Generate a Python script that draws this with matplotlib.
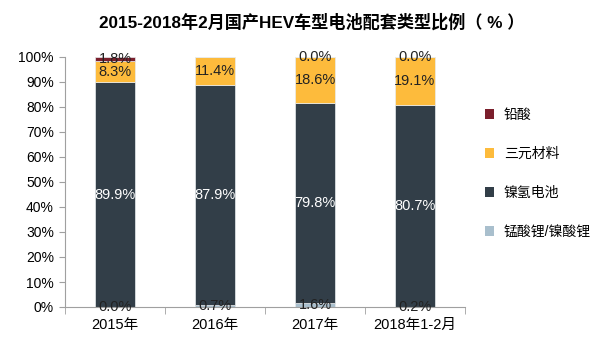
import numpy as np
import matplotlib
matplotlib.use('Agg')
import matplotlib.pyplot as plt
from matplotlib.patches import Patch

plt.rcParams['font.family'] = ['Liberation Sans', 'Noto Sans CJK SC', 'DejaVu Sans']

# data (percent)
categories = ['2015年', '2016年', '2017年', '2018年1-2月']
series_names = ['锰酸锂/镍酸锂', '镍氢电池', '三元材料', '铅酸']
lmo = [0.0, 0.7, 1.6, 0.2]
nimh = [89.9, 87.9, 79.8, 80.7]
ternary = [8.3, 11.4, 18.6, 19.1]
lead = [1.8, 0.0, 0.0, 0.0]
lead_labels = ['1.8%', None, '0.0%', '0.0%']

colors = ['#a9bfcd', '#323e48', '#fdbb3c', '#7b1f2c']
text_colors = ['#222222', '#ffffff', '#222222', '#222222']

fig = plt.figure(figsize=(6.0, 3.54), dpi=100)
ax = fig.add_axes([65/600, 1 - 307/354, 400/600, 250/354])

x = np.arange(len(categories))
bottom = np.zeros(len(categories))
data = [lmo, nimh, ternary, lead]
for i, vals in enumerate(data):
    vals = np.array(vals)
    ax.bar(x, vals, width=0.395, bottom=bottom, color=colors[i],
           edgecolor='#e8ecef', linewidth=0.5)
    for j, v in enumerate(vals):
        if i == 3:
            lab = lead_labels[j]
        else:
            lab = '%.1f%%' % v
        if lab is None:
            continue
        ax.text(x[j], bottom[j] + v / 2, lab, ha='center', va='center',
                fontsize=10.5, color=text_colors[i])
    bottom += vals

ax.set_xlim(-0.5, len(categories) - 0.5)
ax.set_ylim(0, 100)
ax.set_yticks(np.arange(0, 101, 10))
ax.set_yticklabels(['%d%%' % v for v in range(0, 101, 10)], fontsize=10)
ax.set_xticks(x)
ax.set_xticklabels(categories, fontsize=10.5)
ax.set_xticks(np.arange(-0.5, len(categories), 1), minor=True)
ax.tick_params(axis='x', which='major', length=0, pad=8)
ax.tick_params(axis='x', which='minor', length=5, color='#a0a0a0')
ax.tick_params(axis='y', length=4, color='#a0a0a0', pad=4)
for s in ['top', 'right']:
    ax.spines[s].set_visible(False)
for s in ['left', 'bottom']:
    ax.spines[s].set_color('#a0a0a0')
    ax.spines[s].set_linewidth(0.8)

fig.text(0.52, 1 - 22/354, '2015-2018年2月国产HEV车型电池配套类型比例（ % ）',
         ha='center', va='center', fontsize=12.3, fontweight='bold')

handles = [Patch(facecolor=colors[i], edgecolor='none', label=series_names[i])
           for i in [3, 2, 1, 0]]
fig.legend(handles=handles, loc='upper left', bbox_to_anchor=(472/600, 1 - 95/354),
           frameon=False, fontsize=10, labelspacing=1.8, handlelength=0.7,
           handleheight=0.7, handletextpad=0.7)

fig.savefig('out.png', dpi=100)
